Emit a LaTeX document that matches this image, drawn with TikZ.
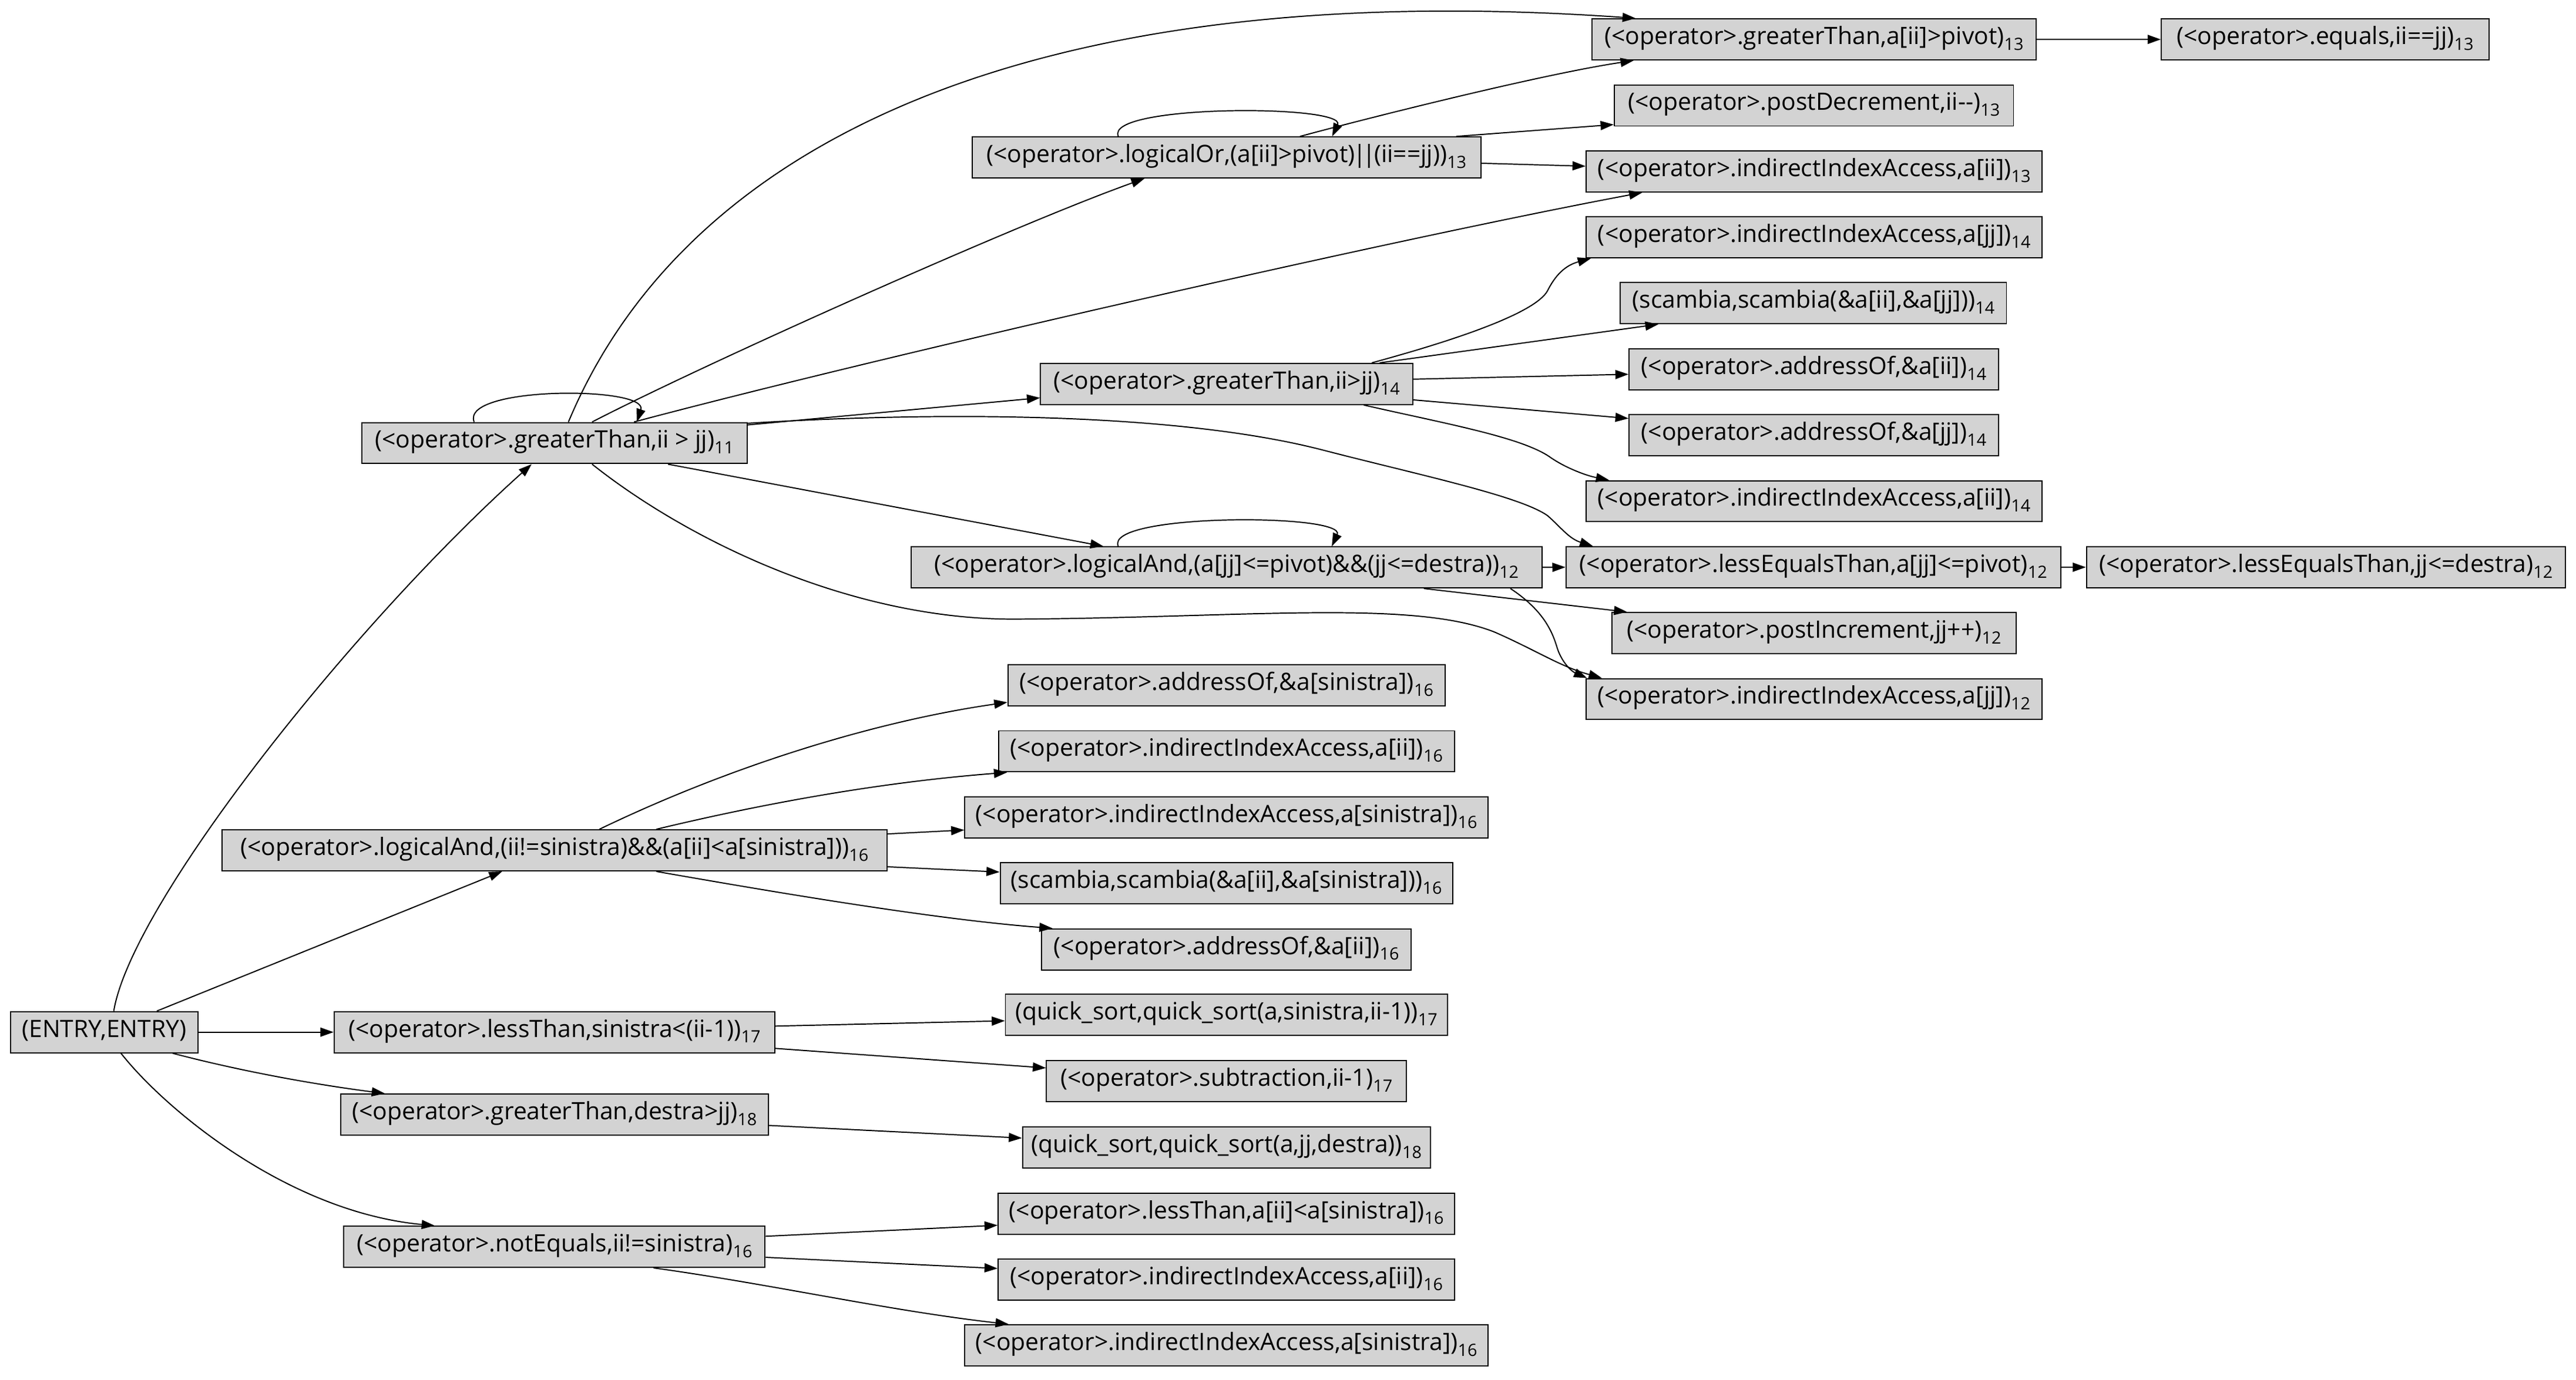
\documentclass[tikz,border=0pt]{standalone}
\usepackage{fontspec}
\setmainfont{Open Sans}
\usetikzlibrary{arrows.meta,calc}
\definecolor{boxgray}{HTML}{D3D3D3}
\newcommand{\sbs}[1]{\raisebox{-3.5pt}{\fontsize{10.3}{10}\selectfont #1}}
\begin{document}
\begin{tikzpicture}[x=1pt,y=-1pt,
  nbox/.style={draw=black,line width=0.7pt,fill=boxgray,rectangle,minimum height=25pt,inner sep=0pt,text height=10pt,text depth=4pt,font=\fontsize{14.6}{17}\selectfont},
  conn/.style={line width=0.7pt,-{Triangle[length=8pt,width=5.5pt]}}]
\useasboundingbox (0,0) rectangle (1568,840);
\fill[white] (0,0) rectangle (1568,840);
% rank 0/1
\node[nbox,minimum width=114.1pt] (E) at (63.45,628.5) {(ENTRY,ENTRY)};
\node[nbox,minimum width=234.5pt] (g11) at (337.5,269.8) {(<operator>.greaterThan,ii > jj)\sbs{11}};
\node[nbox,minimum width=405pt] (la16) at (337.5,517.8) {(<operator>.logicalAnd,(ii!=sinistra)\&\&(a[ii]<a[sinistra]))\sbs{16}};
\node[nbox,minimum width=268.2pt] (lt17) at (337.5,628.5) {(<operator>.lessThan,sinistra<(ii-1))\sbs{17}};
\node[nbox,minimum width=260.4pt] (gt18) at (337.5,678.7) {(<operator>.greaterThan,destra>jj)\sbs{18}};
\node[nbox,minimum width=256.4pt] (ne16) at (337.5,759.2) {(<operator>.notEquals,ii!=sinistra)\sbs{16}};
% rank 2
\node[nbox,minimum width=309.7pt] (lo13) at (746.5,95.9) {(<operator>.logicalOr,(a[ii]>pivot)\kern-1.2pt|\kern-2.2pt|\kern-1.2pt(ii==jj))\sbs{13}};
\node[nbox,minimum width=226.6pt] (g14) at (746.7,233.8) {(<operator>.greaterThan,ii>jj)\sbs{14}};
\node[nbox,minimum width=384pt] (la12) at (746.5,345.5) {(<operator>.logicalAnd,(a[jj]<=pivot)\&\&(jj<=destra))\sbs{12}};
\node[nbox,minimum width=266pt] (aos16) at (746.5,417.3) {(<operator>.addressOf,\&a[sinistra])\sbs{16}};
\node[nbox,minimum width=277.5pt] (iaii16a) at (746.5,457.5) {(<operator>.indirectIndexAccess,a[ii])\sbs{16}};
\node[nbox,minimum width=318.4pt] (ias16a) at (746.5,497.7) {(<operator>.indirectIndexAccess,a[sinistra])\sbs{16}};
\node[nbox,minimum width=275.4pt] (sc16) at (746.5,537.9) {(scambia,scambia(\&a[ii],\&a[sinistra]))\sbs{16}};
\node[nbox,minimum width=225pt] (aoii16) at (746.5,578.1) {(<operator>.addressOf,\&a[ii])\sbs{16}};
\node[nbox,minimum width=269pt] (qs17) at (746.5,618) {(quick\_sort,quick\_sort(a,sinistra,ii-1))\sbs{17}};
\node[nbox,minimum width=219pt] (sub17) at (746.5,658.3) {(<operator>.subtraction,ii-1)\sbs{17}};
\node[nbox,minimum width=248.2pt] (qs18) at (746.5,698.8) {(quick\_sort,quick\_sort(a,jj,destra))\sbs{18}};
\node[nbox,minimum width=277.8pt] (lt16) at (746.5,739) {(<operator>.lessThan,a[ii]<a[sinistra])\sbs{16}};
\node[nbox,minimum width=277.8pt] (iaii16b) at (746.5,779.3) {(<operator>.indirectIndexAccess,a[ii])\sbs{16}};
\node[nbox,minimum width=318.4pt] (ias16b) at (746.5,819.2) {(<operator>.indirectIndexAccess,a[sinistra])\sbs{16}};
% rank 3
\node[nbox,minimum width=270.5pt] (gap13) at (1104.2,24) {(<operator>.greaterThan,a[ii]>pivot)\sbs{13}};
\node[nbox,minimum width=243pt] (pd13) at (1104.1,64.2) {(<operator>.postDecrement,ii-{}-)\sbs{13}};
\node[nbox,minimum width=277.6pt] (iaii13) at (1104.3,104.4) {(<operator>.indirectIndexAccess,a[ii])\sbs{13}};
\node[nbox,minimum width=277.6pt] (iajj14) at (1104.3,144.5) {(<operator>.indirectIndexAccess,a[jj])\sbs{14}};
\node[nbox,minimum width=235pt] (sc14) at (1103.8,184.6) {(scambia,scambia(\&a[ii],\&a[jj]))\sbs{14}};
\node[nbox,minimum width=224.8pt] (aoii14) at (1104,224.9) {(<operator>.addressOf,\&a[ii])\sbs{14}};
\node[nbox,minimum width=224.8pt] (aojj14) at (1104,265) {(<operator>.addressOf,\&a[jj])\sbs{14}};
\node[nbox,minimum width=277.8pt] (iaii14) at (1104.2,305.2) {(<operator>.indirectIndexAccess,a[ii])\sbs{14}};
\node[nbox,minimum width=301pt] (le12) at (1103.75,345.4) {(<operator>.lessEqualsThan,a[jj]<=pivot)\sbs{12}};
\node[nbox,minimum width=245.8pt] (pi12) at (1104.15,385.5) {(<operator>.postIncrement,jj++)\sbs{12}};
\node[nbox,minimum width=277.6pt] (iajj12) at (1104.15,425.7) {(<operator>.indirectIndexAccess,a[jj])\sbs{12}};
% rank 4
\node[nbox,minimum width=199.4pt] (eq13) at (1415.3,24) {(<operator>.equals,ii==jj)\sbs{13}};
\node[nbox,minimum width=291.5pt] (led12) at (1415.75,345.4) {(<operator>.lessEqualsThan,jj<=destra)\sbs{12}};
% ENTRY edges
\draw[conn] ($(E.north west)+(63.2,0)$) .. controls (80,550) and (215,380) .. ($(g11.south west)+(103.7,0)$);
\draw[conn] ($(E.north west)+(89.4,0)$) -- ($(la16.south west)+(171,0)$);
\draw[conn] (E.east) -- (lt17.west);
\draw[conn] ($(E.south west)+(99,0)$) .. controls (148,652.6) and (192,660.4) .. ($(gt18.north west)+(27.3,0)$);
\draw[conn] ($(E.south west)+(67.6,0)$) .. controls (100,675) and (175,738) .. ($(ne16.north west)+(55.7,0)$);
% g11 edges
\draw[conn] ($(g11.north west)+(68.7,0)$) .. controls (280,235) and (395,235) .. ($(g11.north west)+(167.7,0)$);
\draw[conn] ($(g11.north west)+(126.1,0)$) .. controls (420,80) and (640,-14) .. ($(gap13.north west)+(27,0)$);
\draw[conn] ($(g11.north west)+(140.5,0)$) .. controls (430,221) and (620,136) .. ($(lo13.south west)+(105.3,0)$);
\draw[conn] ($(g11.north west)+(166,0)$) .. controls (536,217) and (850,145.3) .. ($(iaii13.south west)+(34.5,0)$);
\draw[conn] ($(g11.north east)+(0,1.8)$) -- ($(g14.south west)+(0,-4.4)$);
\draw[conn] ($(g11.north east)+(0,0.8)$) .. controls (580,250) and (720,252) .. (805,274) .. controls (865,289.5) and (925,302) .. (942,314) .. controls (950,321) and (955,328) .. ($(le12.north west)+(16.7,0)$);
\draw[conn] ($(g11.south west)+(186.7,0)$) -- ($(la12.north west)+(117.5,0)$);
\draw[conn] ($(g11.south west)+(140.5,0)$) .. controls (420,330) and (520,378) .. (620,377) .. controls (760,376) and (860,365) .. (910,385) .. controls (935,396) and (950,406) .. ($(iajj12.north west)+(10,0)$);
% lo13 edges
\draw[conn] ($(lo13.north west)+(89.4,0)$) .. controls (672,63.5) and (820,63.5) .. ($(lo13.north west)+(219.6,0)$);
\draw[conn] ($(lo13.north west)+(200,0)$) .. controls (840,70) and (940,45) .. ($(gap13.south west)+(25.8,0)$);
\draw[conn] ($(lo13.north west)+(295.1,0)$) -- ($(pd13.south west)+(0,-1.2)$);
\draw[conn] ($(lo13.east)+(0,3.5)$) -- ($(iaii13.west)+(0,-3.2)$);
\draw[conn] (gap13.east) -- (eq13.west);
% g14 edges
\draw[conn] ($(g14.north west)+(201.9,0)$) .. controls (890,206) and (935,190) .. (942,177) .. controls (948,165) and (955,161) .. ($(iajj14.south west)+(3.2,0)$);
\draw[conn] ($(g14.north west)+(206.7,0)$) -- ($(sc14.south west)+(23.5,0)$);
\draw[conn] ($(g14.east)+(0,-2.9)$) -- ($(aoii14.west)+(0,3)$);
\draw[conn] ($(g14.east)+(0,9.7)$) -- ($(aojj14.west)+(0,-10.2)$);
\draw[conn] ($(g14.south west)+(197.1,0)$) .. controls (880,258) and (925,266) .. (943,278) .. controls (952,284.5) and (965,289.5) .. ($(iaii14.north west)+(14.5,0)$);
% la12 edges
\draw[conn] ($(la12.north west)+(126.5,0)$) .. controls (672,312.5) and (820,312.5) .. ($(la12.north west)+(256.5,0)$);
\draw[conn] (la12.east) -- (le12.west);
\draw[conn] ($(la12.south west)+(312.5,0)$) -- ($(pi12.north west)+(9.5,0)$);
\draw[conn] ($(la12.south west)+(365.2,0)$) .. controls (940,372) and (945,385) .. (948,395) .. controls (951,404) and (957,409) .. ($(iajj12.north west)+(1,0)$);
\draw[conn] (le12.east) -- (led12.west);
% la16 edges
\draw[conn] ($(la16.north west)+(230.2,0)$) .. controls (445.2,466.2) and (533.3,439.1) .. ($(aos16.south west)+(0,-2.5)$);
\draw[conn] ($(la16.north west)+(264.9,0)$) .. controls (470,488) and (540,476) .. ($(iaii16a.south west)+(5.6,0)$);
\draw[conn] ($(la16.east)+(0,-10)$) -- ($(ias16a.west)+(0,7.7)$);
\draw[conn] ($(la16.east)+(0,10)$) -- ($(sc16.west)+(0,-6.9)$);
\draw[conn] ($(la16.south west)+(264.9,0)$) .. controls (470,543) and (570,560) .. ($(aoii16.north west)+(7,0)$);
% lt17, gt18, ne16 edges
\draw[conn] ($(lt17.east)+(0,-3.7)$) -- ($(qs17.west)+(0,3.6)$);
\draw[conn] ($(lt17.east)+(0,9.9)$) -- ($(sub17.west)+(0,-8)$);
\draw[conn] ($(gt18.east)+(0,6.6)$) -- ($(qs18.west)+(0,-5.8)$);
\draw[conn] ($(ne16.east)+(0,-6.4)$) -- ($(lt16.west)+(0,7.1)$);
\draw[conn] ($(ne16.east)+(0,6.4)$) -- ($(iaii16b.west)+(0,-6.9)$);
\draw[conn] ($(ne16.south west)+(188.8,0)$) .. controls (470,782) and (540,798) .. ($(ias16b.north west)+(27,0)$);
\end{tikzpicture}
\end{document}
